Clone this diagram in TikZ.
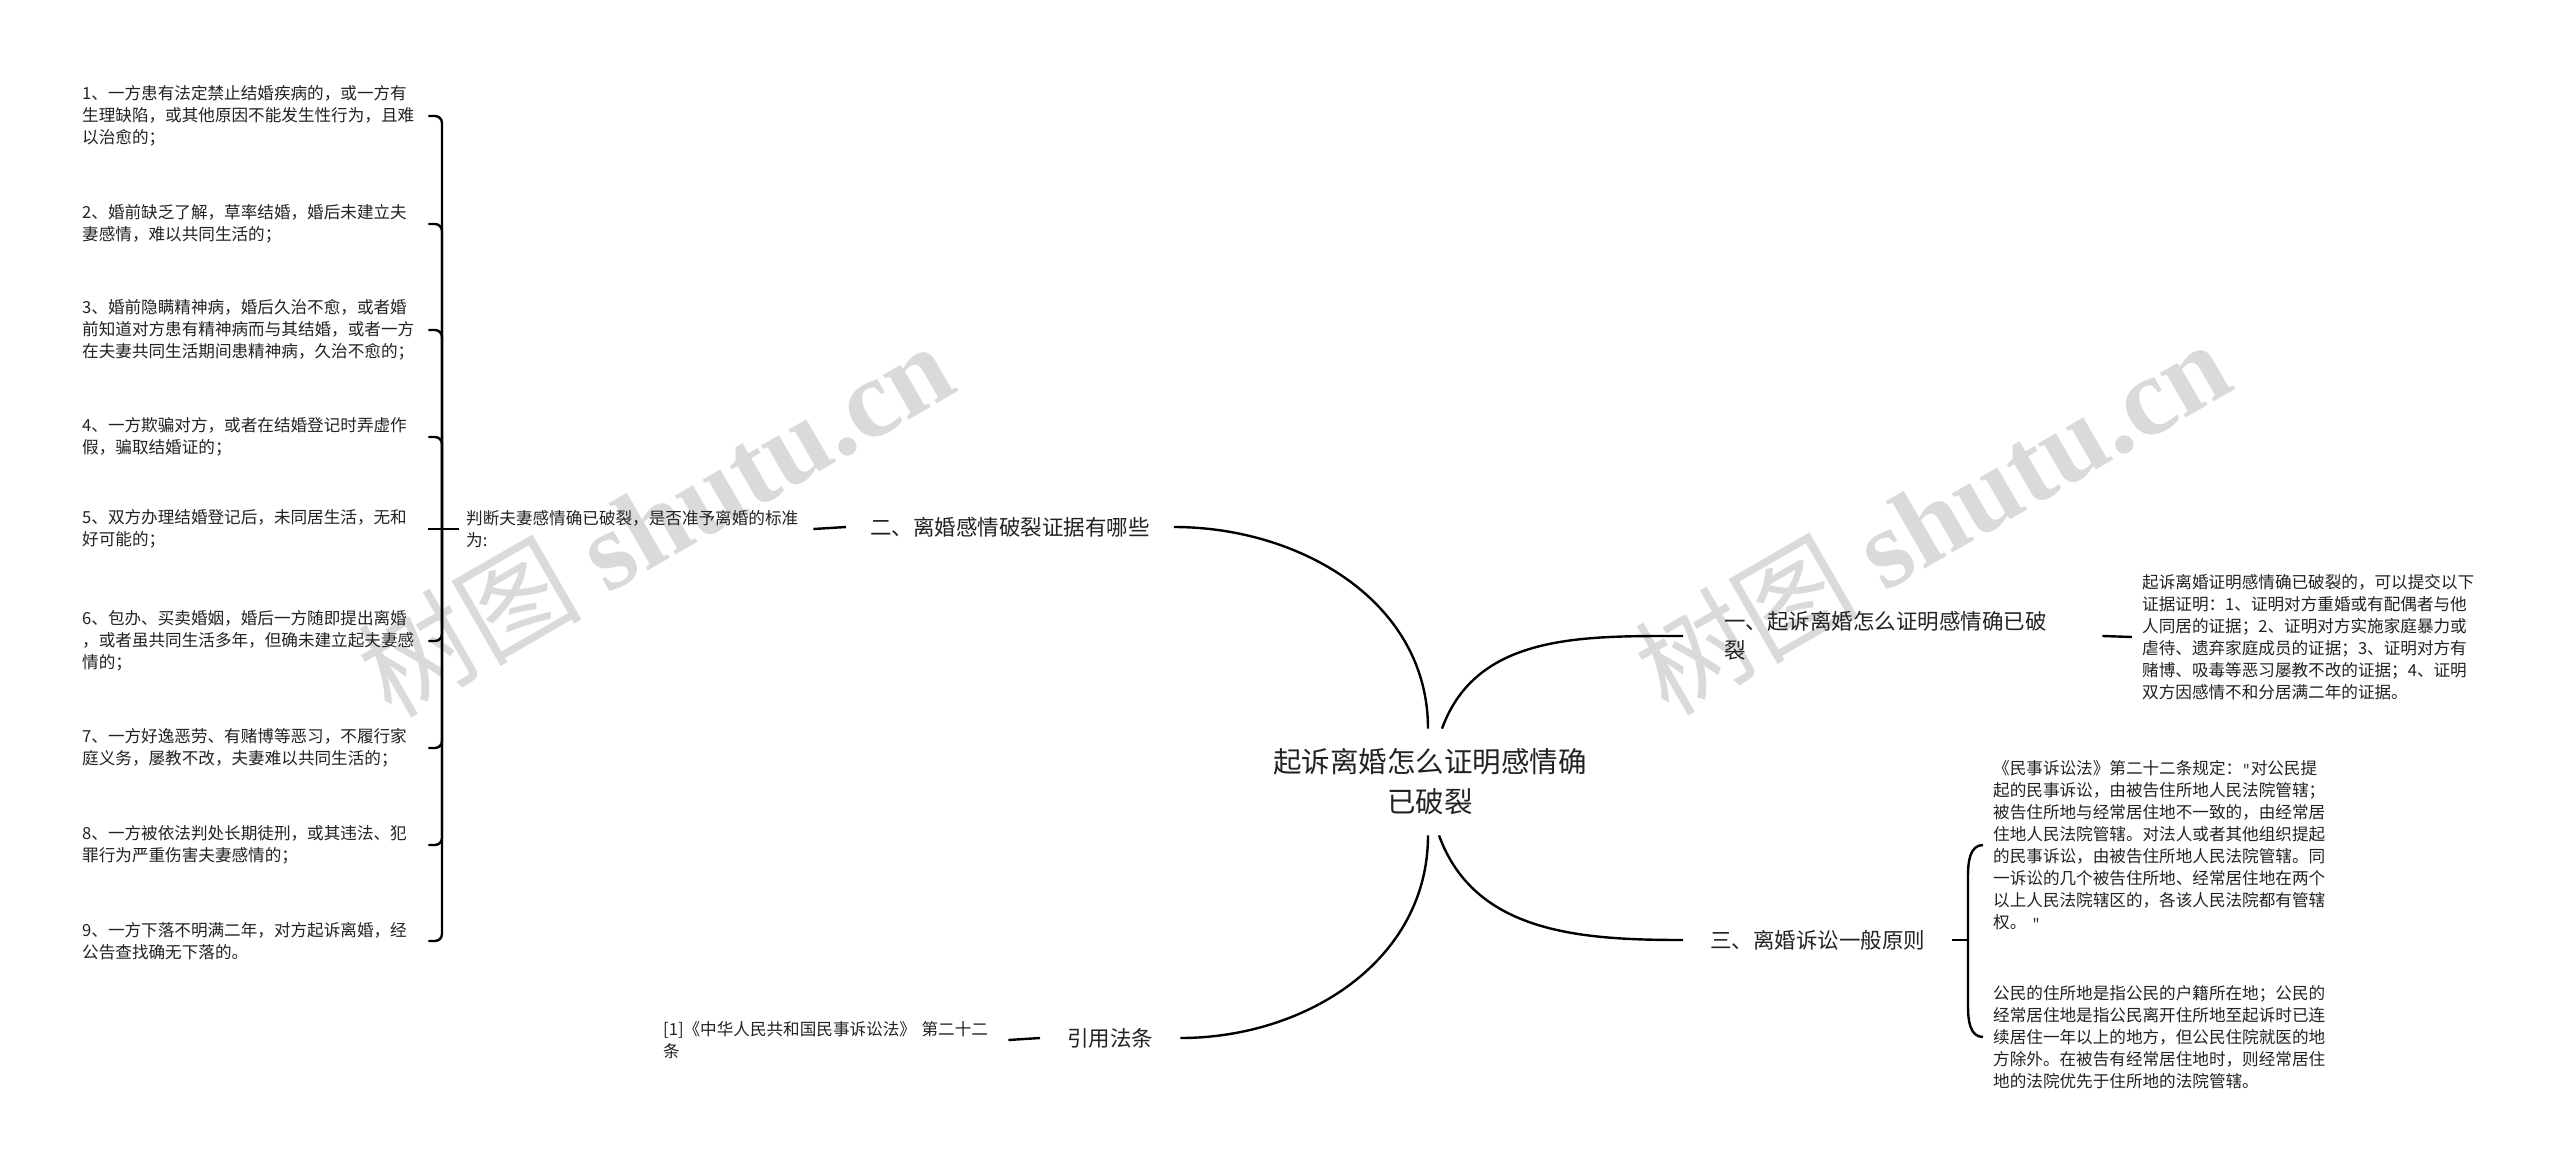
\documentclass[tikz,border=0pt]{standalone}
\usepackage{fontspec}
\setmainfont{Noto Sans CJK SC}
\newfontfamily\wmserif{Liberation Serif}
\definecolor{txt}{HTML}{222222}
\definecolor{wm}{HTML}{DADADA}
\newcommand{\sq}{{\ttfamily\fontsize{16.6}{22}\selectfont "}}
\begin{document}
\begin{tikzpicture}[x=1pt,y=1pt,
  conn/.style={line width=2.4pt, draw=black},
  small/.style={font=\fontsize{16.6}{22}\selectfont, align=left, text=txt, inner ysep=0pt, anchor=west},
  mid/.style={font=\fontsize{21.5}{29}\selectfont, align=left, text=txt, inner ysep=0pt, anchor=west},
  wmark/.style={rotate=30, text=wm, font=\fontsize{112}{112}\selectfont, inner sep=0pt},
  item/.style={small, text width=346pt, inner xsep=0pt}
]
\fill[white] (0,0) rectangle (2560,-1172);
\useasboundingbox (0,0) rectangle (2560,-1172);

% watermarks
\node[wmark] (wmL) at (655,-518) {树图 {\wmserif\bfseries shutu.cn}};
\node[wmark] (wmR) at (1932,-516) {树图 {\wmserif\bfseries shutu.cn}};

% root
\node[font=\fontsize{28.5}{40}\selectfont, align=center, text=txt, inner ysep=20pt, inner xsep=0pt] (root) at (1430,-782) {起诉离婚怎么证明感情确\\已破裂};

% left branch
\node[mid, inner xsep=24pt] (n2) at (846,-527) {二、离婚感情破裂证据有哪些};
\node[small, text width=340pt, inner xsep=7pt] (p) at (459,-529) {判断夫妻感情确已破裂，是否准予离婚的标准\\为:};
\coordinate (jL) at (442,-529);

\node[item] (i1) at (82,-116) {1、一方患有法定禁止结婚疾病的，或一方有\\生理缺陷，或其他原因不能发生性行为，且难\\以治愈的；};
\node[item] (i2) at (82,-224) {2、婚前缺乏了解，草率结婚，婚后未建立夫\\妻感情，难以共同生活的；};
\node[item] (i3) at (82,-330) {3、婚前隐瞒精神病，婚后久治不愈，或者婚\\前知道对方患有精神病而与其结婚，或者一方\\在夫妻共同生活期间患精神病，久治不愈的；};
\node[item] (i4) at (82,-437) {4、一方欺骗对方，或者在结婚登记时弄虚作\\假，骗取结婚证的；};
\node[item] (i5) at (82,-529) {5、双方办理结婚登记后，未同居生活，无和\\好可能的；};
\node[item] (i6) at (82,-641) {6、包办、买卖婚姻，婚后一方随即提出离婚\\，或者虽共同生活多年，但确未建立起夫妻感\\情的；};
\node[item] (i7) at (82,-748) {7、一方好逸恶劳、有赌博等恶习，不履行家\\庭义务，屡教不改，夫妻难以共同生活的；};
\node[item] (i8) at (82,-845) {8、一方被依法判处长期徒刑，或其违法、犯\\罪行为严重伤害夫妻感情的；};
\node[item] (i9) at (82,-941) {9、一方下落不明满二年，对方起诉离婚，经\\公告查找确无下落的。};

\foreach \k in {1,2,3,4,6,7,8,9}{
  \draw[conn, rounded corners=7pt] (i\k.east) -| (jL);
}
\draw[conn] (i5.east) -- (p.west);
\draw[conn] (p.east) -- (n2.west);
\draw[conn] ([xshift=-2pt]root.north) to[out=90,in=0] (n2.east);

% bottom-left branch
\node[mid, inner xsep=27pt] (n4) at (1040,-1038) {引用法条};
\node[small, text width=335pt, inner xsep=10pt] (ref) at (653,-1040) {[1]《中华人民共和国民事诉讼法》 第二十二\\条};
\draw[conn] (ref.east) -- (n4.west);
\draw[conn] ([xshift=-2pt]root.south) to[out=-90,in=0] (n4.east);

% top-right branch
\node[mid, text width=337pt, inner xsep=41pt] (n1) at (1683,-636) {一、起诉离婚怎么证明感情确已破\\裂};
\node[small, text width=340pt, inner xsep=10pt] (r1) at (2132,-637) {起诉离婚证明感情确已破裂的，可以提交以下\\证据证明：1、证明对方重婚或有配偶者与他\\人同居的证据；2、证明对方实施家庭暴力或\\虐待、遗弃家庭成员的证据；3、证明对方有\\赌博、吸毒等恶习屡教不改的证据；4、证明\\双方因感情不和分居满二年的证据。};
\draw[conn] ([xshift=12pt]root.north) to[out=70,in=180] (n1.west);
\draw[conn] (n1.east) -- (r1.west);

% bottom-right branch
\node[mid, inner xsep=27pt] (n3) at (1683,-940) {三、离婚诉讼一般原则};
\coordinate (jR) at (1968,-940);
\node[small, text width=340pt, inner xsep=10pt] (r2) at (1983,-845) {《民事诉讼法》第二十二条规定：\sq 对公民提\\起的民事诉讼，由被告住所地人民法院管辖；\\被告住所地与经常居住地不一致的，由经常居\\住地人民法院管辖。对法人或者其他组织提起\\的民事诉讼，由被告住所地人民法院管辖。同\\一诉讼的几个被告住所地、经常居住地在两个\\以上人民法院辖区的，各该人民法院都有管辖\\权。 \sq};
\node[small, text width=340pt, inner xsep=10pt] (r3) at (1983,-1037) {公民的住所地是指公民的户籍所在地；公民的\\经常居住地是指公民离开住所地至起诉时已连\\续居住一年以上的地方，但公民住院就医的地\\方除外。在被告有经常居住地时，则经常居住\\地的法院优先于住所地的法院管辖。};
\draw[conn] ([xshift=9pt]root.south) to[out=-70,in=180] (n3.west);
\draw[conn] (n3.east) -- (jR);
\draw[conn] (jR) -- ([yshift=-30pt]r2.west -| jR) to[out=90,in=180] (r2.west);
\draw[conn] (jR) -- ([yshift=30pt]r3.west -| jR) to[out=-90,in=180] (r3.west);
\end{tikzpicture}
\end{document}
